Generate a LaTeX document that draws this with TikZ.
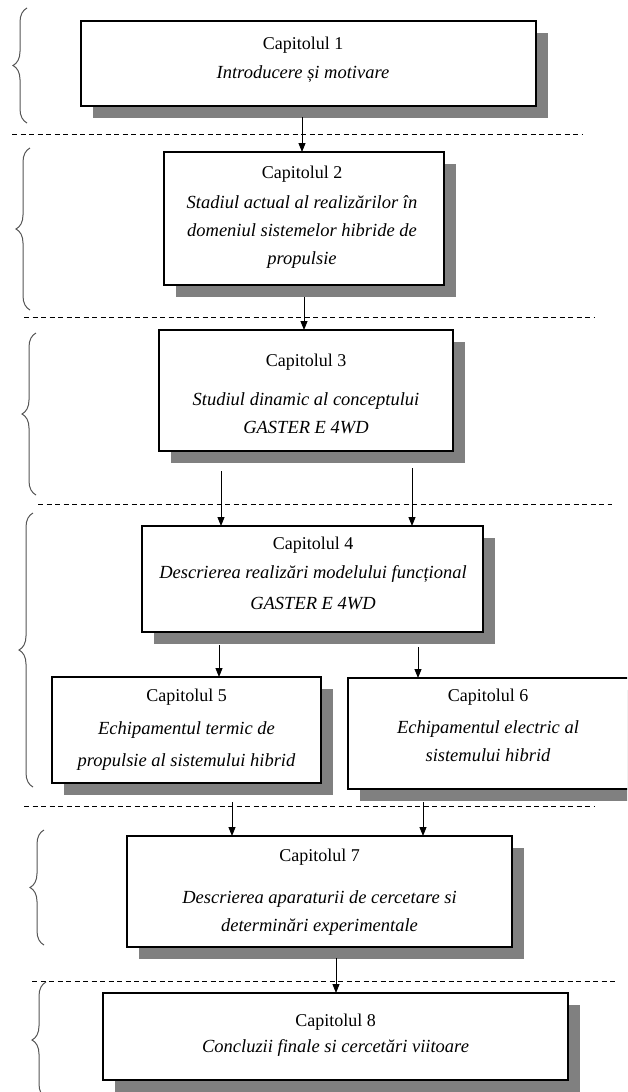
\documentclass[tikz,border=0pt]{standalone}
\usepackage{fontspec}
\setmainfont{Liberation Serif}
\usetikzlibrary{shadows,calc,arrows.meta,decorations.pathreplacing}
\definecolor{shadowgray}{HTML}{808080}
\definecolor{bracegray}{HTML}{555555}
\begin{document}
\begin{tikzpicture}[x=1pt,y=-1pt,
  box/.style={draw=black, line width=1.2pt, fill=white, anchor=north west, inner sep=0pt, outer sep=0pt,
    drop shadow={shadow xshift=11.5pt, shadow yshift=-12pt, fill=shadowgray, opacity=1}},
  ttl/.style={font=\fontsize{18}{22}\selectfont, inner sep=0pt, text height=12pt, text depth=0pt},
  sub/.style={ttl, font=\fontsize{18.5}{22}\selectfont\itshape},
  arr/.style={line width=0.9pt, -{Triangle[length=9pt,width=7pt]}},
  sep/.style={line width=0.9pt, dash pattern=on 5pt off 3.5pt},
  brc/.style={draw=bracegray, line width=1pt, decorate, decoration={brace, amplitude=14pt}},
]
\useasboundingbox (0,0) rectangle (627,1092);
\clip (0,0) rectangle (627,1092);

% separators
\draw[sep] (12,134) -- (583,134);
\draw[sep] (24,317) -- (594,317);
\draw[sep] (38,504) -- (612,504);
\draw[sep] (24,806) -- (594,806);
\draw[sep] (32,981) -- (617,981);

% braces
\draw[brc] (27,123) -- (27,8);
\draw[brc] (30,310) -- (30,148);
\draw[brc] (36,495) -- (36,333);
\draw[brc] (33,787) -- (33,513);
\draw[brc] (44,945) -- (44,830);
\draw[brc] (46,1098) -- (46,982);

% boxes
\node[box, minimum width=455pt, minimum height=85pt]  (b1) at (81,21) {};
\node[box, minimum width=280pt, minimum height=133pt] (b2) at (164,152) {};
\node[box, minimum width=294pt, minimum height=121pt] (b3) at (159,330) {};
\node[box, minimum width=341pt, minimum height=106pt] (b4) at (142,526) {};
\node[box, minimum width=269pt, minimum height=106pt] (b5) at (52,677) {};
\node[box, minimum width=282pt, minimum height=111pt] (b6) at (348,678) {};
\node[box, minimum width=385pt, minimum height=111pt] (b7) at (127,836) {};
\node[box, minimum width=465pt, minimum height=87pt]  (b8) at (103,993) {};

% texts
\node[ttl] (t1a) at (303,43) {Capitolul 1};
\node[sub] (t1b) at (303,72) {Introducere și motivare};

\node[ttl] (t2a) at (302,172) {Capitolul 2};
\node[sub] (t2b) at (302,202) {Stadiul actual al realizărilor în};
\node[sub] (t2c) at (302,230) {domeniul sistemelor hibride de};
\node[sub] (t2d) at (302,258) {propulsie};

\node[ttl] (t3a) at (306,360) {Capitolul 3};
\node[sub] (t3b) at (306,399) {Studiul dinamic al conceptului};
\node[sub] (t3c) at (306,427) {GASTER E 4WD};

\node[ttl] (t4a) at (313,543) {Capitolul 4};
\node[sub] (t4b) at (313,572) {Descrierea realizări modelului funcțional};
\node[sub] (t4c) at (313,603) {GASTER E 4WD};

\node[ttl] (t5a) at (186.5,695) {Capitolul 5};
\node[sub] (t5b) at (186.5,728) {Echipamentul termic de};
\node[sub] (t5c) at (186.5,760) {propulsie al sistemului hibrid};

\node[ttl] (t6a) at (488,695) {Capitolul 6};
\node[sub] (t6b) at (488,727) {Echipamentul electric al};
\node[sub] (t6c) at (488,755) {sistemului hibrid};

\node[ttl] (t7a) at (319.5,855) {Capitolul 7};
\node[sub] (t7b) at (319.5,897) {Descrierea aparaturii de cercetare si};
\node[sub] (t7c) at (319.5,925) {determinări experimentale};

\node[ttl] (t8a) at (335.5,1020) {Capitolul 8};
\node[sub] (t8b) at (335.5,1046) {Concluzii finale si cercetări viitoare};

% connectors
\draw[arr] ($(b1.south)+(-6.5,11)$) -- ($(b2.north)+(-2,0)$);
\draw[arr] ($(b2.south)+(0,12)$) -- ($(b3.north)+(-2,0)$);
\draw[arr] ($(b3.south)+(-85,20)$) -- ($(b4.north)+(-91.5,0)$);
\draw[arr] ($(b3.south)+(106,17)$) -- ($(b4.north)+(99.5,0)$);
\draw[arr] ($(b4.south)+(-93.5,13)$) -- ($(b5.north)+(32.5,0)$);
\draw[arr] ($(b4.south)+(105.5,15)$) -- ($(b6.north)+(-71,0)$);
\draw[arr] ($(b5.south)+(45.5,19)$) -- ($(b7.north)+(-87.5,0)$);
\draw[arr] ($(b6.south)+(-66,13)$) -- ($(b7.north)+(103.5,0)$);
\draw[arr] ($(b7.south)+(16.5,11)$) -- ($(b8.north)+(0.5,0)$);
\end{tikzpicture}
\end{document}
